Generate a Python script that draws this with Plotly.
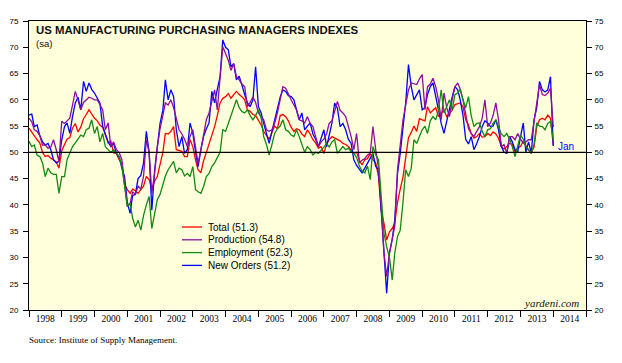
import pandas as pd
import plotly.graph_objects as go

# ---- data (monthly, Jan 1998 .. Jan 2014) ----
start_month = "1998-01-01"

total = [
    54.6, 53.8, 53.0, 52.4, 51.8, 50.0, 49.2, 49.4, 48.9, 48.6, 48.2, 47.0,
    50.3, 51.5, 52.5, 52.8, 54.6, 55.5, 53.9, 54.8, 56.4, 57.2, 58.1, 57.3,
    56.5, 56.0, 55.2, 54.8, 53.5, 51.8, 52.2, 49.9, 49.8, 48.6, 48.0, 43.9,
    42.9, 42.2, 43.0, 42.7, 42.2, 43.0, 43.6, 45.4, 44.8, 43.0, 44.5, 45.4,
    47.5, 50.0, 53.6, 53.5, 54.0, 54.9, 50.5, 50.4, 50.2, 49.2, 49.2, 52.4,
    51.1, 48.5, 46.7, 46.1, 48.4, 50.0, 51.5, 53.2, 54.9, 57.0, 59.4, 60.3,
    60.6, 61.2, 60.3, 61.0, 61.6, 61.0, 60.6, 60.0, 58.1, 57.8, 57.2, 57.0,
    56.2, 55.2, 54.0, 53.2, 52.5, 53.8, 55.0, 54.5, 57.0, 57.2, 56.8, 56.0,
    54.8, 54.0, 54.5, 54.3, 53.5, 53.0, 54.3, 53.5, 52.4, 51.8, 50.8, 51.1,
    49.8, 51.6, 52.4, 53.0, 52.7, 52.4, 52.2, 51.7, 51.5, 51.1, 50.5, 49.8,
    50.0, 48.5, 47.6, 48.6, 48.8, 49.8, 48.6, 48.0, 45.4, 38.9, 36.5, 33.3,
    34.9, 35.5, 36.5, 40.5, 43.0, 45.3, 49.0, 52.8, 53.8, 55.0, 54.0, 56.4,
    56.2, 56.0, 58.7, 57.5, 58.0, 58.5, 56.8, 57.5, 58.1, 56.8, 57.5, 58.0,
    59.1, 59.3, 59.4, 58.7, 56.2, 55.2, 53.6, 52.7, 53.0, 53.6, 52.9, 53.0,
    53.6, 53.2, 53.9, 53.5, 52.7, 51.1, 50.6, 51.1, 51.7, 51.5, 50.1, 50.9,
    51.1, 52.2, 51.4, 50.4, 50.0, 51.0, 54.9, 56.2, 56.5, 56.2, 57.1, 56.5,
    51.3,
]

production = [
    56.5, 55.8, 54.3, 54.0, 53.2, 51.4, 51.4, 50.8, 51.0, 52.4, 50.5, 48.2,
    55.9, 55.5, 56.0, 56.5, 59.0, 61.6, 60.0, 58.1, 59.5, 60.0, 60.5, 60.3,
    60.0, 60.0, 59.0, 58.1, 54.3, 55.6, 51.1, 52.0, 50.5, 50.0, 48.6, 44.5,
    39.7, 40.3, 42.5, 42.0, 43.6, 43.0, 45.5, 52.4, 50.0, 42.2, 46.0, 51.0,
    54.5, 57.0, 59.4, 59.0, 60.0, 58.5, 56.2, 54.3, 53.5, 52.5, 51.1, 53.0,
    54.3, 50.5, 47.9, 50.5, 53.6, 56.2, 57.5, 60.0, 61.9, 58.1, 64.4, 70.1,
    68.8, 67.5, 65.6, 66.9, 64.4, 63.8, 63.0, 62.5, 58.7, 59.5, 60.6, 59.5,
    57.5, 56.8, 56.2, 54.3, 54.0, 54.3, 55.5, 57.5, 60.0, 62.5, 62.2, 61.0,
    60.0, 59.0, 58.1, 56.2, 56.0, 55.6, 56.8, 55.5, 54.9, 53.0, 51.1, 52.0,
    52.5, 53.6, 55.5, 56.0, 58.1, 59.7, 58.0, 57.5, 56.8, 55.0, 53.0, 50.5,
    53.6, 48.0, 48.5, 48.8, 49.5, 49.8, 54.9, 50.5, 47.0, 39.7, 30.8, 26.4,
    30.8, 33.5, 35.9, 46.7, 52.0, 56.2, 59.0, 61.9, 63.2, 63.0, 62.9, 64.0,
    64.8, 58.1, 62.5, 63.0, 64.1, 62.5, 60.0, 56.2, 61.3, 58.5, 56.8, 60.0,
    62.5, 63.2, 62.0, 60.0, 57.0, 54.5, 53.6, 53.0, 54.0, 54.9, 56.5, 60.0,
    54.9, 55.6, 57.0, 59.4, 56.2, 51.1, 51.5, 49.8, 53.0, 53.0, 52.4, 53.6,
    52.5, 51.7, 52.0, 52.4, 52.4, 56.2, 59.0, 62.9, 61.0, 60.8, 61.3, 62.2,
    54.8,
]

employment = [
    52.1, 51.1, 51.4, 49.5, 49.2, 48.0, 45.4, 47.0, 46.1, 45.8, 45.8, 42.2,
    45.4, 45.4, 48.6, 50.0, 51.1, 51.8, 52.5, 53.3, 53.0, 54.3, 54.6, 56.2,
    53.6, 54.9, 52.0, 53.6, 51.1, 50.5, 50.0, 50.5, 49.8, 49.2, 47.3, 43.5,
    39.7, 40.3, 37.5, 35.8, 37.1, 35.2, 38.0, 40.0, 41.6, 35.5, 38.0, 41.0,
    42.0, 44.0, 45.5, 46.7, 47.5, 48.3, 46.1, 47.0, 46.7, 45.5, 46.0, 45.4,
    47.3, 42.9, 42.5, 42.2, 43.5, 45.4, 46.0, 47.3, 48.0, 49.0, 50.0, 54.3,
    54.0, 55.5, 57.1, 58.5, 60.0, 58.5, 57.8, 57.5, 58.1, 57.0, 56.2, 57.0,
    58.1, 56.5, 53.0, 51.5, 49.5, 51.5, 53.6, 54.5, 55.0, 56.2, 54.3, 54.0,
    53.3, 53.0, 54.3, 53.0, 51.5, 50.0, 51.1, 50.5, 49.5, 50.0, 49.8, 50.5,
    51.0, 51.7, 51.0, 52.0, 52.4, 49.8, 50.5, 51.1, 50.5, 50.8, 50.1, 49.8,
    49.0, 47.4, 46.5, 46.1, 47.4, 44.8, 51.1, 49.5, 48.6, 42.0, 34.6, 32.0,
    30.0, 25.7, 30.8, 34.0, 35.2, 40.5, 46.7, 45.4, 47.0, 52.4, 51.7, 53.0,
    54.3, 55.0, 53.6, 56.0, 56.8, 56.2, 58.0, 61.9, 57.5, 58.7, 60.0, 58.1,
    61.0, 61.3, 62.0, 60.0, 58.5, 60.6, 57.0, 54.9, 55.5, 55.6, 54.0, 53.0,
    54.3, 54.5, 55.5, 56.2, 54.9, 53.5, 53.0, 53.6, 52.5, 51.1, 49.2, 51.5,
    53.3, 52.5, 51.1, 50.5, 49.8, 51.5, 55.6, 55.0, 54.9, 54.3, 55.5, 55.9,
    52.3,
]

new_orders = [
    57.1, 57.3, 54.9, 55.2, 53.2, 52.0, 51.4, 51.7, 50.5, 48.6, 48.0, 48.3,
    52.4, 54.9, 55.6, 53.6, 56.8, 59.4, 60.5, 58.1, 63.5, 61.6, 63.2, 62.0,
    61.3, 60.3, 59.4, 55.0, 53.6, 52.0, 51.1, 51.7, 49.8, 49.2, 47.0, 45.4,
    40.5, 38.4, 41.8, 42.0, 45.0, 45.6, 48.0, 54.0, 50.0, 39.0, 46.5, 51.1,
    55.5, 58.0, 63.8, 60.0, 61.9, 60.6, 54.3, 51.1, 53.0, 49.8, 50.5, 55.6,
    53.6, 50.0, 47.3, 50.5, 53.0, 54.5, 55.6, 61.6, 59.4, 62.0, 64.4, 71.4,
    70.0, 69.5, 66.3, 66.9, 63.8, 64.5, 62.5, 61.0, 59.4, 58.7, 60.0, 66.3,
    58.7, 57.5, 55.5, 53.6, 51.7, 54.0, 56.2, 58.1, 60.5, 61.9, 61.6, 60.8,
    60.6, 60.0, 58.0, 56.2, 57.5, 54.3, 55.0, 55.6, 53.5, 52.5, 51.1, 52.5,
    54.3, 51.1, 53.0, 55.6, 59.4, 58.4, 54.9, 55.5, 54.3, 52.5, 51.7, 48.6,
    47.5, 46.7, 46.1, 47.0, 48.0, 49.0, 49.8, 47.3, 46.7, 39.0, 30.8, 23.2,
    30.8, 33.5, 37.1, 46.0, 49.8, 55.0, 59.4, 66.7, 62.5, 60.0, 61.0, 61.9,
    58.1, 58.5, 61.0, 62.5, 63.2, 60.5, 58.1, 55.5, 53.6, 56.0, 58.7, 60.5,
    62.5, 61.9, 60.0, 57.0, 52.5, 51.6, 53.0, 50.5, 51.7, 53.0, 54.9, 56.0,
    55.6, 54.9, 55.0, 56.2, 54.3, 51.1, 50.0, 49.8, 53.0, 52.0, 50.5, 50.1,
    53.0, 55.6, 50.1, 52.0, 49.8, 56.2, 58.5, 63.5, 61.9, 61.5, 61.9, 64.4,
    51.2,
]

series_names = ["Total", "Production", "Employment", "New Orders"]
y_ticks = [20, 25, 30, 35, 40, 45, 50, 55, 60, 65, 70, 75]
title_text = "US MANUFACTURING PURCHASING MANAGERS INDEXES"
subtitle_text = "(sa)"
source_text = "Source: Institute of Supply Management."
credit_text = "yardeni.com"

dates = pd.date_range(start_month, periods=len(total), freq="MS")

# ---- styling ----
SANS = "Liberation Sans, Arial, sans-serif"
SERIF = "Liberation Serif, Times New Roman, serif"
colors = {
    "Total": "#FF0000",
    "Production": "#8E0E9E",
    "Employment": "#138A13",
    "New Orders": "#0000FF",
}
values = {
    "Total": total,
    "Production": production,
    "Employment": employment,
    "New Orders": new_orders,
}

fig = go.Figure()

# invisible helper trace so the right-hand axis / tick overlay axis are drawn
fig.add_trace(go.Scatter(x=dates, y=total, xaxis="x2", yaxis="y2",
                         mode="lines", line=dict(color="rgba(0,0,0,0)", width=0),
                         hoverinfo="skip", showlegend=False))

draw_order = ["Total", "New Orders", "Production", "Employment"]
for name in draw_order:
    fig.add_trace(go.Scatter(
        x=dates, y=values[name], mode="lines", name=name,
        line=dict(color=colors[name], width=1.3),
        showlegend=False,
    ))

x_range = ["1998-01-01", "2015-01-01"]

# the page body has an 8px default margin, so the figure is offset by 8px
fig.update_layout(
    width=606, height=347,
    margin=dict(l=21, r=28, t=13, b=45, autoexpand=False),
    paper_bgcolor="white",
    plot_bgcolor="#FFFFDC",
    showlegend=False,
    xaxis=dict(
        type="date", range=x_range, tick0="1998-01-01", dtick="M12",
        ticklabelmode="period", tickformat="%Y", ticks="",
        showline=True, mirror=True, linecolor="black", linewidth=1,
        showgrid=False, zeroline=False, automargin=False,
        tickfont=dict(family=SERIF, size=9.5, color="black"),
    ),
    xaxis2=dict(
        type="date", range=x_range, tick0="1998-01-01", dtick="M12",
        overlaying="x", anchor="y", side="bottom",
        ticks="outside", ticklen=6, tickcolor="black", tickwidth=1,
        showticklabels=False, showline=False, showgrid=False, zeroline=False,
        automargin=False,
    ),
    yaxis=dict(
        range=[20, 75], tickvals=y_ticks, ticks="outside", ticklen=5,
        tickcolor="black", showline=True, linecolor="black", linewidth=1,
        showgrid=False, zeroline=False, ticklabelstandoff=3, automargin=False,
        tickfont=dict(family=SANS, size=8, color="black"),
    ),
    yaxis2=dict(
        range=[20, 75], tickvals=y_ticks, ticks="outside", ticklen=5,
        tickcolor="black", showline=True, linecolor="black", linewidth=1,
        overlaying="y", side="right", anchor="x",
        showgrid=False, zeroline=False, ticklabelstandoff=1, automargin=False,
        tickfont=dict(family=SANS, size=8, color="black"),
    ),
)

# 50 reference line
fig.add_shape(type="line", xref="paper", x0=0, x1=1, yref="y", y0=50, y1=50,
              line=dict(color="black", width=1.2), layer="above")

# plot-area pixel helpers (page pixels) for annotation placement
PL, PR, PT, PB = 29, 586, 21, 310
def px(xp):
    return (xp - PL) / (PR - PL)
def py(yp):
    return (PB - yp) / (PB - PT)

fig.add_annotation(text="<b>" + title_text + "</b>", xref="paper", yref="paper",
                   x=px(34), y=py(30.5), xanchor="left", yanchor="middle",
                   showarrow=False, font=dict(family=SANS, size=11.4, color="#111111"))
fig.add_annotation(text=subtitle_text, xref="paper", yref="paper",
                   x=px(34), y=py(43.5), xanchor="left", yanchor="middle",
                   showarrow=False, font=dict(family=SANS, size=9.5, color="#111111"))
fig.add_annotation(text="<i>" + credit_text + "</i>", xref="paper", yref="paper",
                   x=px(581), y=py(303), xanchor="right", yanchor="middle",
                   showarrow=False, font=dict(family=SERIF, size=11, color="#111111"))
fig.add_annotation(text=source_text, xref="paper", yref="paper",
                   x=px(27), y=py(340), xanchor="left", yanchor="middle",
                   showarrow=False, font=dict(family=SERIF, size=9, color="black"))

# "Jan" label at the last New Orders point
fig.add_annotation(text="Jan", x=dates[-1], y=new_orders[-1], xref="x", yref="y",
                   xanchor="left", yanchor="middle", xshift=3, showarrow=False,
                   font=dict(family=SANS, size=10, color="#0000FF"))

# manual legend
legend_labels = {
    "Total": f"Total ({total[-1]})",
    "Production": f"Production ({production[-1]})",
    "Employment": f"Employment ({employment[-1]})",
    "New Orders": f"New Orders ({new_orders[-1]})",
}
row_y = [227, 239.8, 252.6, 265.4]
for name, yp in zip(series_names, row_y):
    fig.add_shape(type="line", xref="paper", yref="paper",
                  x0=px(182), x1=px(202), y0=py(yp), y1=py(yp),
                  line=dict(color=colors[name], width=1.3))
    fig.add_annotation(text=legend_labels[name], xref="paper", yref="paper",
                       x=px(206), y=py(yp), xanchor="left", yanchor="middle",
                       showarrow=False, font=dict(family=SANS, size=10, color="black"))

fig.write_html("out.html")
